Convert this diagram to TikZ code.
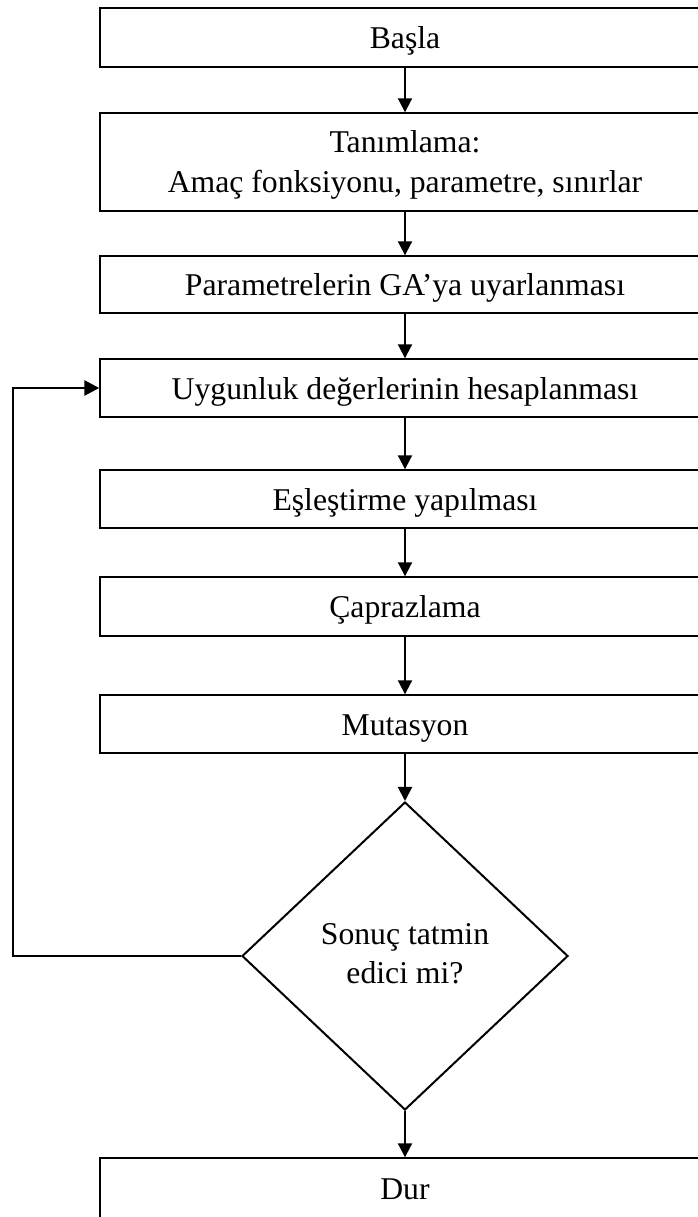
\documentclass[tikz,border=0pt]{standalone}
\usepackage{fontspec}
\setmainfont{Liberation Serif}
\usetikzlibrary{shapes.geometric,arrows.meta}

\begin{document}
\begin{tikzpicture}[x=1pt,y=-1pt,
  every node/.style={font=\fontsize{31.7}{40}\selectfont, text height=22pt, text depth=0pt},
  stepbox/.style={draw=black, line width=1.4pt, rectangle, minimum width=610pt, inner sep=0pt, align=center},
  decision/.style={draw=black, line width=2pt, diamond, minimum width=326pt, minimum height=308pt, inner sep=0pt, align=center},
  flow/.style={line width=2pt, -{Triangle[width=14pt,length=14pt]}},
  feedback/.style={line width=2.7pt, -{Triangle[width=15pt,length=15pt]}}
]
\useasboundingbox (0,0) rectangle (698,1217);
\clip (0,0) rectangle (698,1217);

% process steps
\node[stepbox, minimum height=59pt] (basla)  at (405,37.5)  {Başla};
\node[stepbox, minimum height=98pt, text height=62pt] (tanim) at (405,162) {Tanımlama:\\Amaç fonksiyonu, parametre, sınırlar};
\node[stepbox, minimum height=57pt] (param)  at (405,284.5) {Parametrelerin GA’ya uyarlanması};
\node[stepbox, minimum height=58pt] (uygun)  at (405,388)   {Uygunluk değerlerinin hesaplanması};
\node[stepbox, minimum height=58pt] (esles)  at (405,499)   {Eşleştirme yapılması};
\node[stepbox, minimum height=59pt] (capraz) at (405,606.5) {Çaprazlama};
\node[stepbox, minimum height=58pt] (mutas)  at (405,724)   {Mutasyon};

% stop test
\node[decision, font=\fontsize{31.7}{39}\selectfont, text height=54pt] (karar) at (405,956) {Sonuç tatmin\\edici mi?};

\node[stepbox, minimum height=61pt] (dur) at (405,1188.5) {Dur};

% left-hand return line
\coordinate (loop) at (13,0);

% connectors
\draw[flow] (basla) -- (tanim);
\draw[flow] (tanim) -- (param);
\draw[flow] (param) -- (uygun);
\draw[flow] (uygun) -- (esles);
\draw[flow] (esles) -- (capraz);
\draw[flow] (capraz) -- (mutas);
\draw[flow] (mutas) -- (karar);
\draw[flow] (karar) -- (dur);
\draw[feedback] (karar.west) -- (karar.west -| loop) |- (uygun.west);
\end{tikzpicture}
\end{document}
